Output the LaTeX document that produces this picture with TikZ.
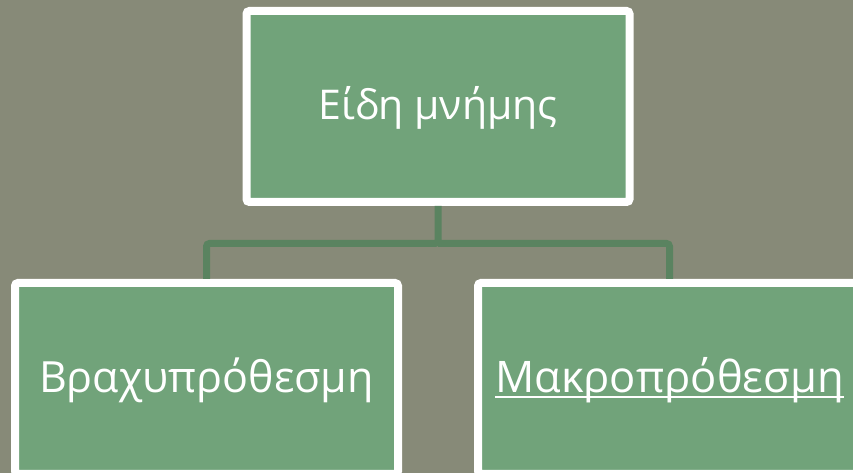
\documentclass[tikz,border=0pt]{standalone}
\usepackage{fontspec}
\setmainfont{Open Sans}
\usepackage{tikz}
\usetikzlibrary{positioning}
\usepackage{xcolor}

\definecolor{bgolive}{RGB}{135,138,120}
\definecolor{boxgreen}{RGB}{113,163,122}
\definecolor{linkgreen}{RGB}{90,131,96}

\newcommand{\lowrule}[1]{\setbox0\hbox{#1}\rlap{\rule[-5.5pt]{\wd0}{2pt}}\box0}

\begin{document}
\begin{tikzpicture}[x=1pt,y=1pt,
		box/.style={draw=white, line width=8pt, outer sep=4pt, fill=boxgreen, rounded corners=3pt,
			minimum width=383pt, minimum height=191pt, inner sep=0pt, text=white},
		link/.style={draw=linkgreen, line width=7pt, rounded corners=3pt}]
		\fill[bgolive] (0,0) rectangle (853,473);
		\useasboundingbox (0,0) rectangle (853,473);
		\draw (438,366.5) node[box, font=\fontsize{41}{48}\selectfont, text height=27pt, text depth=0pt] (kinds) {Είδη μνήμης}
		(206.5,94.5) node[box, font=\fontsize{43}{50}\selectfont, text height=29pt, text depth=0pt] (shortterm) {Βραχυπρόθεσμη}
		(669.5,94.5) node[box, font=\fontsize{43.5}{50}\selectfont, text height=29pt, text depth=0pt] (longterm) {\lowrule{Μακροπρόθεσμη}};
		\coordinate (fork) at (438,229.5);
		
		\draw[link] (kinds.south) -- (fork) -| (shortterm.north);
		\draw[link] (fork) -| (longterm.north);
	\end{tikzpicture}
\end{document}
